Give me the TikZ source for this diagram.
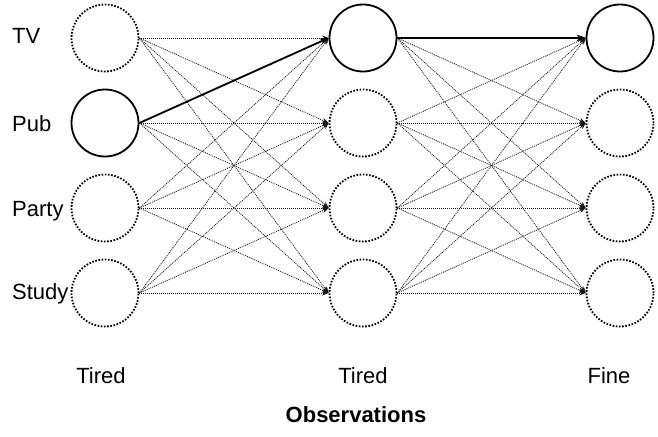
\documentclass[tikz,border=0pt]{standalone}
\usepackage{fontspec}
\setmainfont{Liberation Sans}
\usetikzlibrary{arrows.meta}
\begin{document}
\begin{tikzpicture}[x=1pt,y=-1pt,
  state/.style={circle, draw, minimum size=67pt, inner sep=0pt, line width=1.8pt, dash pattern=on 1.6pt off 1.6pt},
  active/.style={circle, draw, minimum size=67pt, inner sep=0pt, line width=1.8pt, solid},
  trans/.style={line width=0.8pt, dash pattern=on 1pt off 1pt, draw=black!90, -{Stealth[length=6.5pt,width=5pt]}},
  path/.style={line width=1.8pt, solid, draw=black, -{Stealth[length=9pt,width=6.5pt]}},
  lab/.style={font=\fontsize{22}{26}\selectfont, inner sep=0pt},
  blab/.style={font=\fontsize{22}{26}\selectfont\bfseries, inner sep=0pt}]
\useasboundingbox[fill=white] (0,0) rectangle (658,436);
% column 1
\node[state]  (a1) at (105,38) {};
\node[active] (a2) at (105,123) {};
\node[state]  (a3) at (105,208) {};
\node[state]  (a4) at (105,293) {};
% column 2
\node[active] (b1) at (363,38) {};
\node[state]  (b2) at (363,123) {};
\node[state]  (b3) at (363,208) {};
\node[state]  (b4) at (363,293) {};
% column 3
\node[active] (c1) at (620,38) {};
\node[state]  (c2) at (620,123) {};
\node[state]  (c3) at (620,208) {};
\node[state]  (c4) at (620,293) {};
% row labels
\node[lab, anchor=base west] (tv) at (12,44) {TV};
\node[lab, anchor=base west] (pub) at (12,131) {Pub};
\node[lab, anchor=base west] (party) at (12,216) {Party};
\node[lab, anchor=base west] (study) at (12,299) {Study};
% observations
\node[lab, anchor=base] (o1) at (101,383) {Tired};
\node[lab, anchor=base] (o2) at (363,383) {Tired};
\node[lab, anchor=base] (o3) at (609,383) {Fine};
\node[blab, anchor=base] (obs) at (356,422) {Observations};
% transitions
\foreach \i in {1,...,4}{
  \foreach \j in {1,...,4}{
    \draw[trans] (a\i.east) -- (b\j.west);
    \draw[trans] (b\i.east) -- (c\j.west);
  }
}
\draw[path] (a2.east) -- (b1.west);
\draw[path] (b1.east) -- (c1.west);
\end{tikzpicture}
\end{document}
